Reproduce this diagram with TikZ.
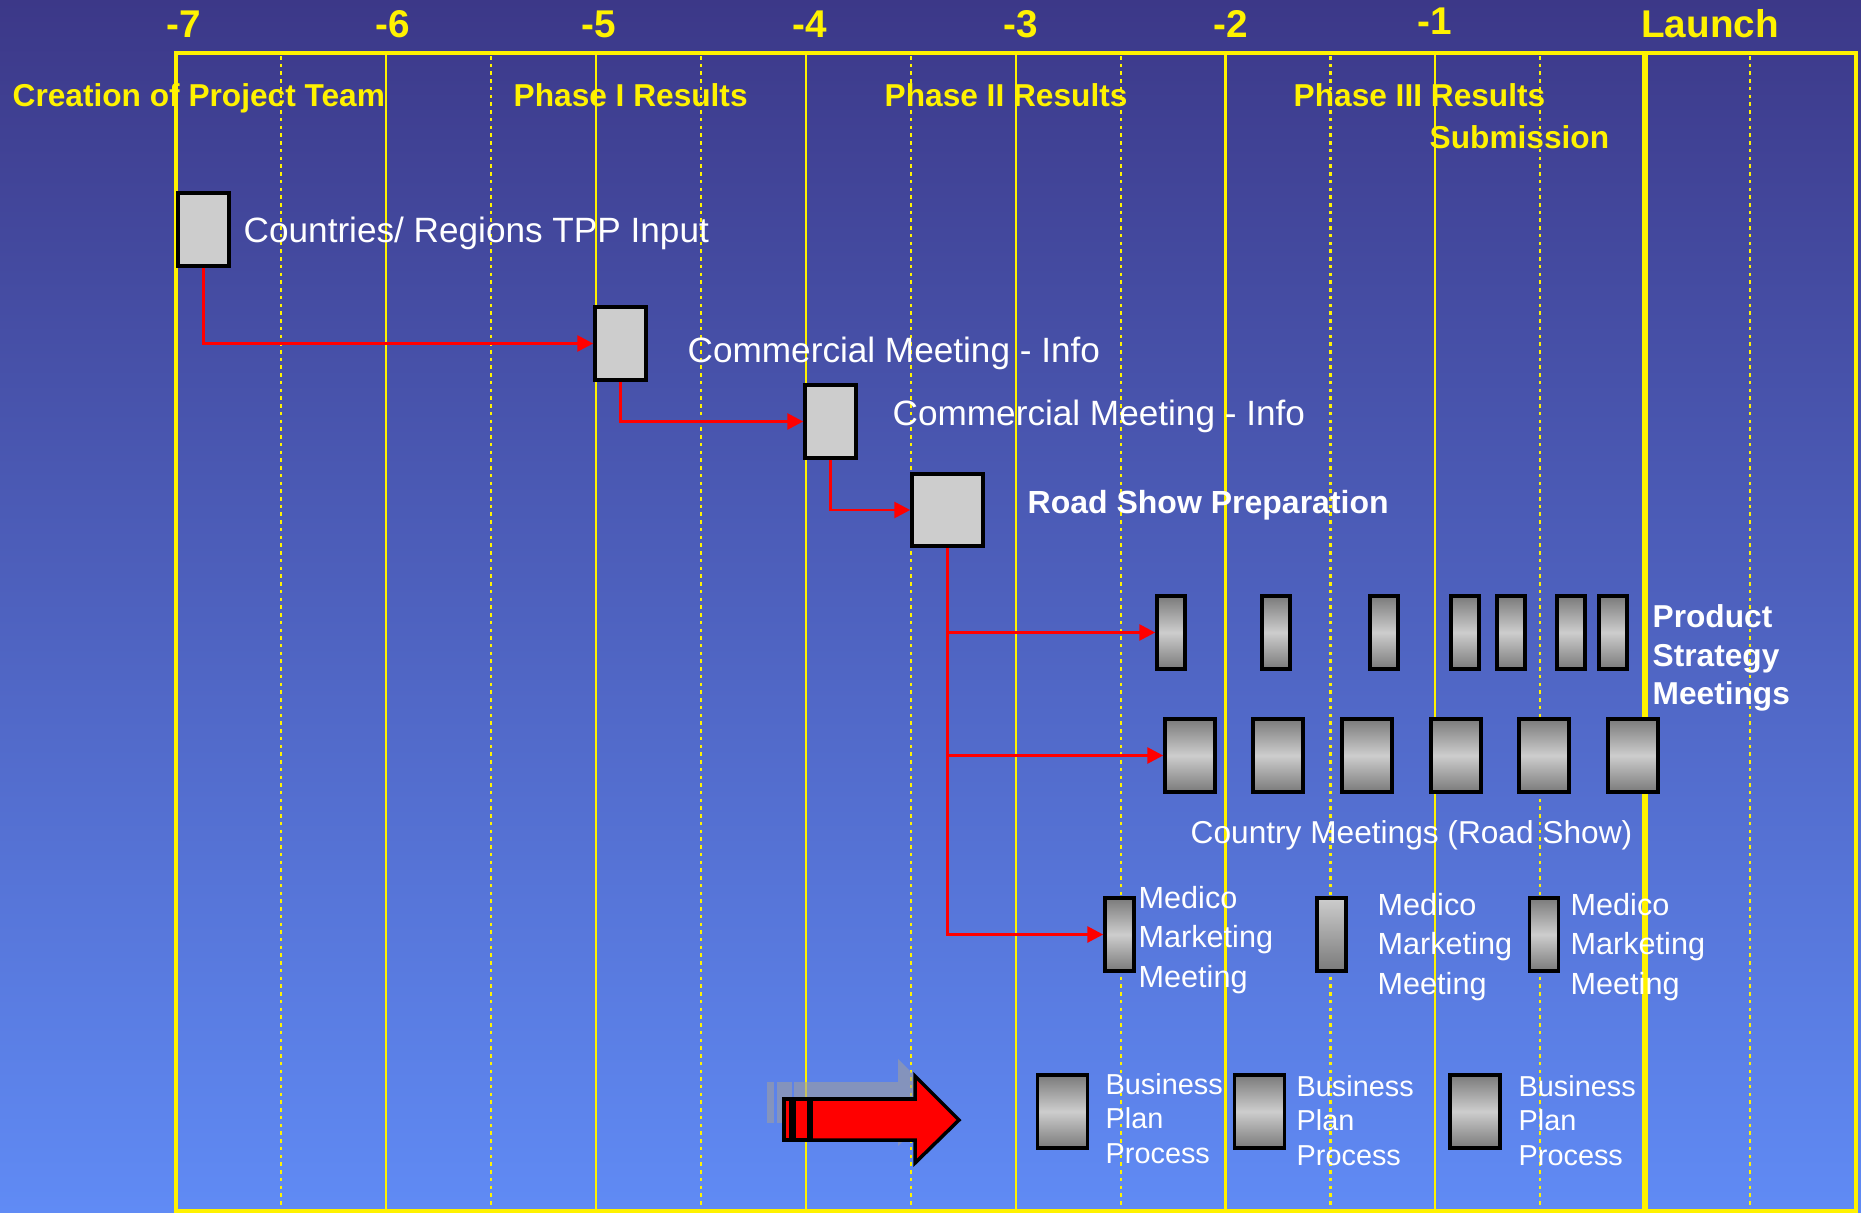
\documentclass[tikz,border=0pt]{standalone}
\usepackage{fontspec}
\setmainfont{Liberation Sans}
\usetikzlibrary{arrows.meta}

\definecolor{bgtop}{RGB}{60,56,136}
\definecolor{bgbot}{RGB}{96,139,245}
\definecolor{boxgray}{RGB}{205,205,205}
\definecolor{shadegray}{RGB}{122,122,122}

\begin{document}
\begin{tikzpicture}[
    x=0.01cm, y=-0.01cm,
    % --- Grid styles ---
    frame/.style = {draw=yellow, line width=1pt},
    yearline/.style = {draw=yellow, line width=0.6pt},
    halfline/.style = {draw=yellow, line width=0.6pt, dash pattern=on 1pt off 1.2pt},
    % --- Text styles ---
    year/.style = {text=yellow, font=\fontsize{11}{13}\selectfont\bfseries,
        inner sep=0pt, anchor=base},
    milestone/.style = {text=yellow, font=\fontsize{9}{11}\selectfont\bfseries,
        inner sep=0pt, anchor=base west},
    boxtext/.style = {text=white, inner sep=0pt, anchor=base west, align=left},
    % --- Box styles ---
    task/.style = {rectangle, draw=black, line width=1pt, fill=boxgray,
        minimum width=0.51cm, minimum height=0.73cm, inner sep=0pt},
    meeting/.style = {rectangle, draw=black, line width=1pt,
        top color=shadegray, bottom color=shadegray, middle color=boxgray,
        minimum width=#1, minimum height=0.73cm, inner sep=0pt},
    % --- Arrow style ---
    arrow/.style = {draw=red, line width=0.8pt, -{Triangle[length=4.5pt, width=4.5pt]}}
]

% ==================== BACKGROUND ====================
\shade[top color=bgtop, bottom color=bgbot] (0,0) rectangle (1861,1213);
\useasboundingbox (0,0) rectangle (1861,1213);

% ==================== TIME GRID ====================
\foreach \k in {0,...,6}
    \draw[yearline] ({176+209.9*\k},55) -- ++(0,1156);
\draw[yearline, line width=1.6pt] (1645,55) -- (1645,1211);
\foreach \k in {0,...,7}
    \draw[halfline] ({281+209.9*\k},56) -- ++(0,1155);
\draw[frame] (176,53) rectangle (1856,1211);

\node[year] (y7) at (184,38) {-7};
\node[year] (y6) at (393,38) {-6};
\node[year] (y5) at (599,38) {-5};
\node[year] (y4) at (810,38) {-4};
\node[year] (y3) at (1021,38) {-3};
\node[year] (y2) at (1231,38) {-2};
\node[year] (y1) at (1435,35) {-1};
\node[year] (launch) at (1710,38) {Launch};

% ==================== MILESTONES ====================
\node[milestone] (team) at (12,107) {Creation of Project Team};
\node[milestone] (ph1) at (513,107) {Phase I Results};
\node[milestone] (ph2) at (884,107) {Phase II Results};
\node[milestone] (ph3) at (1293,107) {Phase III Results};
\node[milestone] (subm) at (1429,149) {Submission};

% ==================== PREPARATION ====================
\node[task] (tpp) at (203.5,229.5) {};
\node[boxtext, font=\fontsize{10}{12}\selectfont] (ltpp) at (243,243) {Countries/ Regions TPP Input};

\node[task] (cm1) at (620.5,343.5) {};
\node[boxtext, font=\fontsize{10}{12}\selectfont] (lcm1) at (687,363) {Commercial Meeting - Info};

\node[task] (cm2) at (830.5,421.5) {};
\node[boxtext, font=\fontsize{10}{12}\selectfont] (lcm2) at (892,426) {Commercial Meeting - Info};

\node[task, minimum width=0.71cm, minimum height=0.72cm] (road) at (947.5,510) {};
\node[boxtext, font=\fontsize{9.1}{11}\selectfont\bfseries] (lroad) at (1027,514) {Road Show Preparation};

% ==================== ROAD SHOW ====================
\foreach \x [count=\i] in {1171,1276,1384,1465,1511,1571,1613}
    \node[meeting=0.28cm] (psm\i) at (\x,632.5) {};
\node[boxtext, font=\fontsize{9}{10.95}\selectfont\bfseries] (lpsm) at (1652,705)
    {Product\\Strategy\\Meetings};

\foreach \x [count=\i] in {1190,1278,1367,1456,1544,1633}
    \node[meeting=0.50cm] (ctry\i) at (\x,755.5) {};
\node[boxtext, font=\fontsize{9}{11}\selectfont] (lctry) at (1190,843) {Country Meetings (Road Show)};

\node[meeting=0.29cm] (mm1) at (1119.5,934.5) {};
\node[meeting=0.29cm, top color=boxgray, bottom color=shadegray] (mm2) at (1331.5,934.5) {};
\node[meeting=0.29cm] (mm3) at (1544,934.5) {};
\node[boxtext, font=\fontsize{8.7}{11.1}\selectfont] (lmm1) at (1138,987) {Medico\\Marketing\\Meeting};
\node[boxtext, font=\fontsize{8.7}{11.1}\selectfont] (lmm2) at (1377,994) {Medico\\Marketing\\Meeting};
\node[boxtext, font=\fontsize{8.7}{11.1}\selectfont] (lmm3) at (1570,994) {Medico\\Marketing\\Meeting};

% ==================== BUSINESS PLAN ====================
\node[meeting=0.50cm] (bp1) at (1062.5,1111.5) {};
\node[meeting=0.50cm] (bp2) at (1259.5,1111.5) {};
\node[meeting=0.50cm] (bp3) at (1475,1111.5) {};
\node[boxtext, font=\fontsize{8.2}{9.8}\selectfont] (lbp1) at (1105,1163) {Business\\Plan\\Process};
\node[boxtext, font=\fontsize{8.2}{9.8}\selectfont] (lbp2) at (1296,1165) {Business\\Plan\\Process};
\node[boxtext, font=\fontsize{8.2}{9.8}\selectfont] (lbp3) at (1518,1165) {Business\\Plan\\Process};

% big arrow, with its grey ghost behind
\begin{scope}[shift={(-17,-17)}, fill=gray!75, opacity=0.6]
    \fill (811,1099) -- (915,1099) -- (915,1076) -- (959,1120) -- (915,1163)
        -- (915,1140) -- (811,1140) -- cycle;
    \fill (784,1099) rectangle (791,1140);
    \fill (794,1099) rectangle (809,1140);
\end{scope}
\filldraw[fill=red, draw=black, line width=1pt]
    (811,1099) -- (915,1099) -- (915,1076) -- (959,1120) -- (915,1163)
    -- (915,1140) -- (811,1140) -- cycle;
\filldraw[fill=red, draw=black, line width=1pt] (784,1099) rectangle (791,1140);
\filldraw[fill=red, draw=black, line width=1pt] (794,1099) rectangle (809,1140);

% ==================== ARROWS ====================
\draw[arrow] (tpp.south) |- (cm1.west);
\draw[arrow] (cm1.south) |- (cm2.west);
\draw[arrow] (cm2.south) |- (road.west);
\draw[arrow] (road.south) |- (psm1.west);
\draw[arrow] (road.south) |- (ctry1.west);
\draw[arrow] (road.south) |- (mm1.west);

\end{tikzpicture}
\end{document}
